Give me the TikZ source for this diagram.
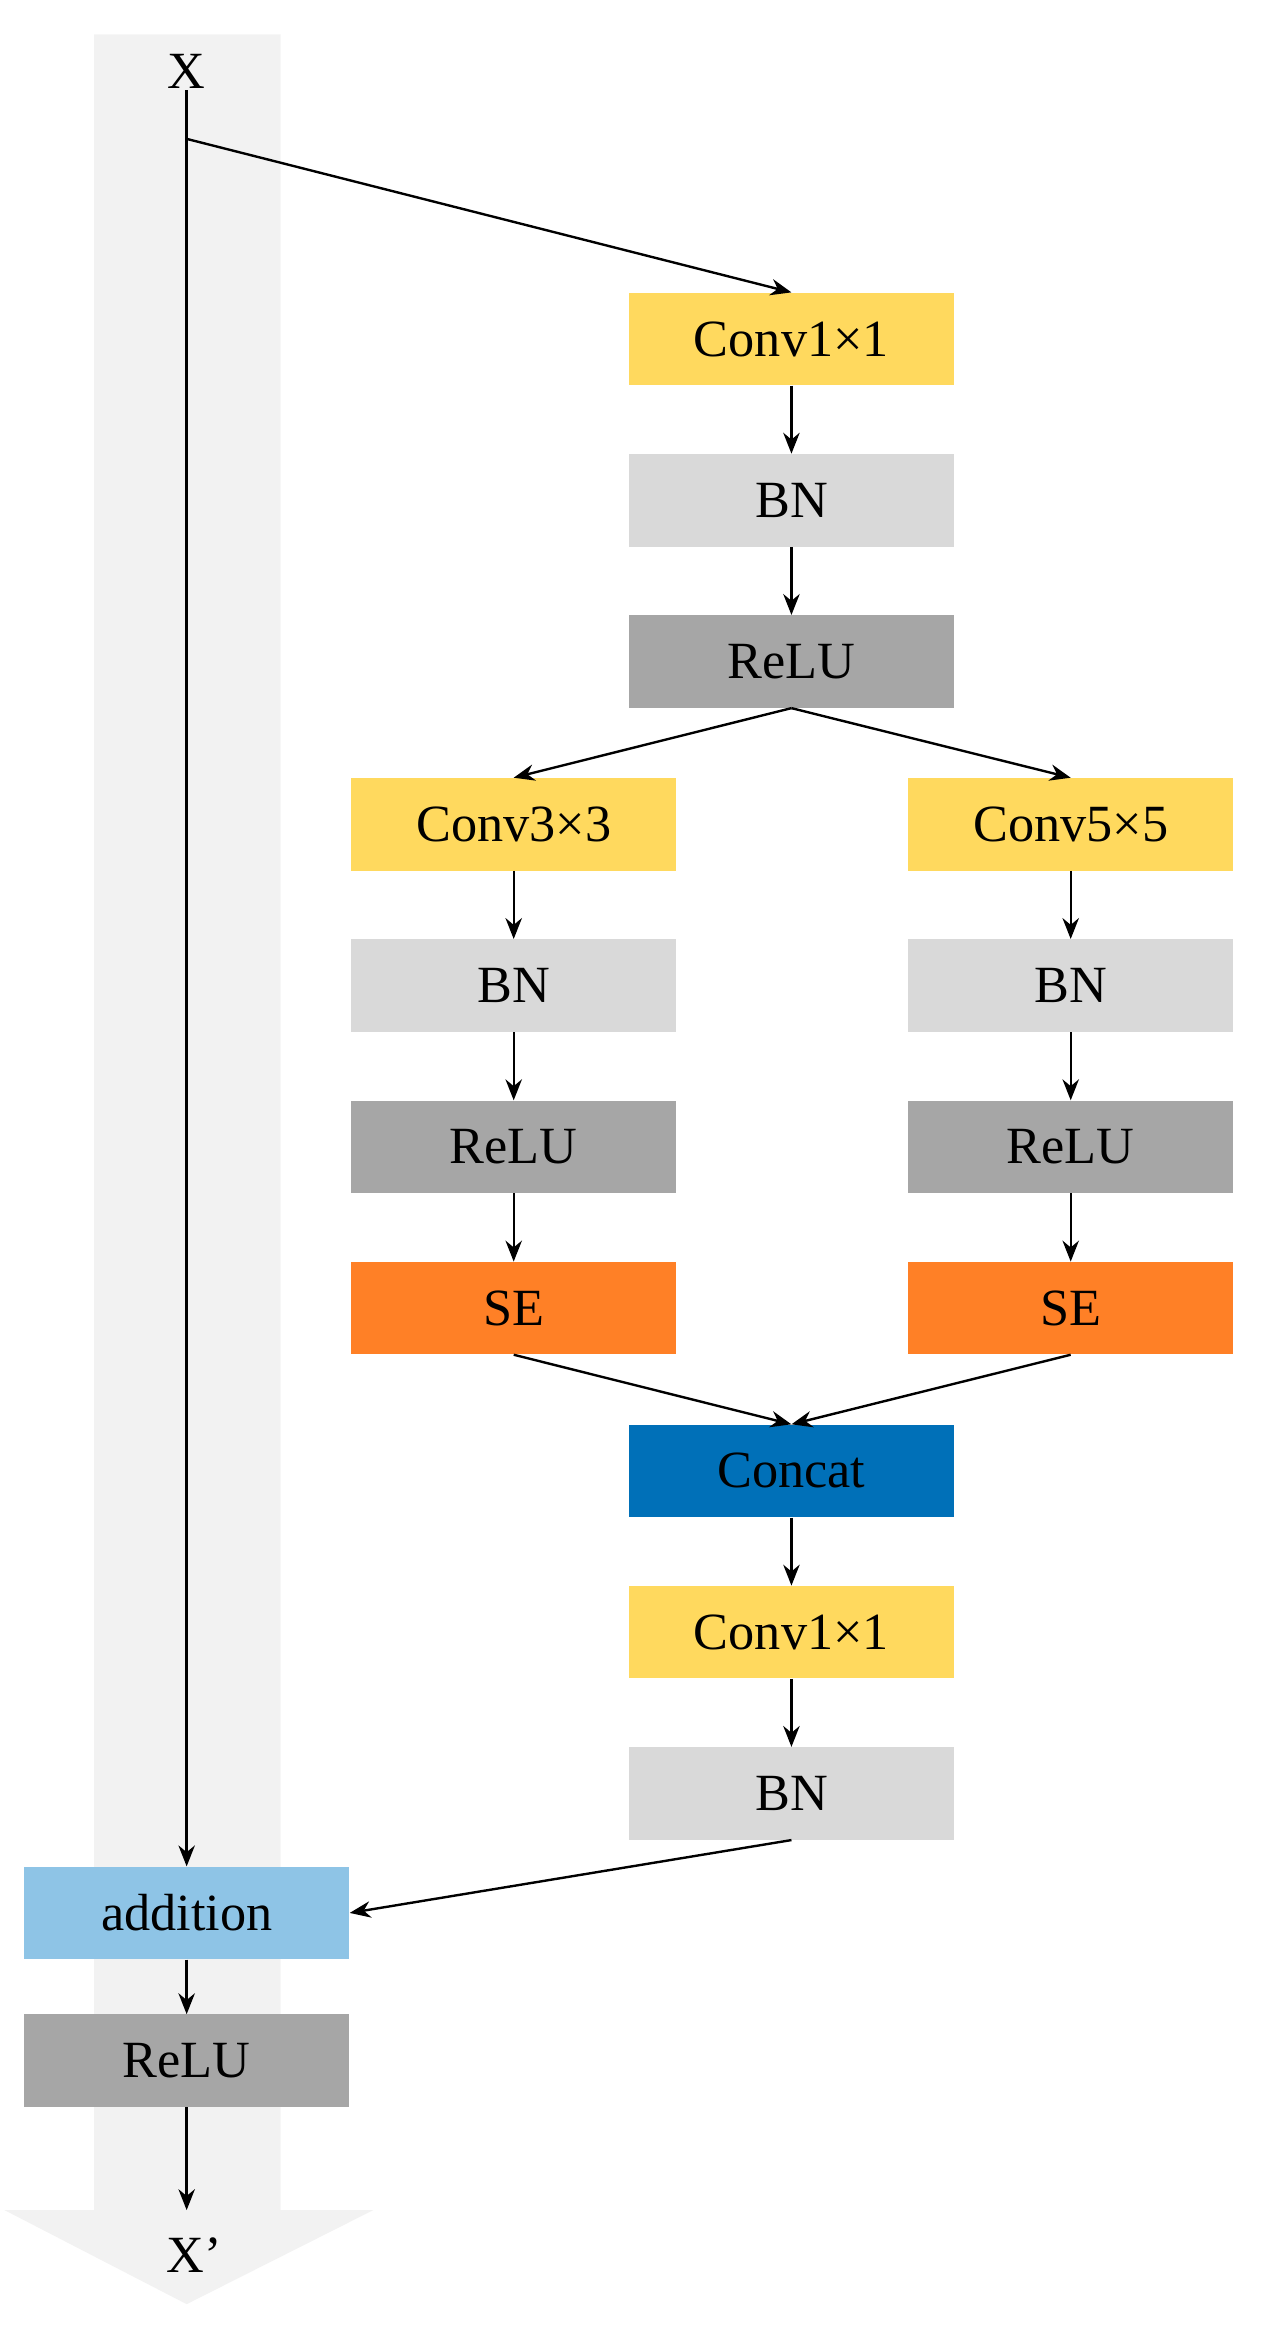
\documentclass[tikz,border=0pt]{standalone}
\usepackage{fontspec}
\setmainfont{Liberation Serif}
\usetikzlibrary{arrows.meta}
\definecolor{cyellow}{RGB}{255,217,94}
\definecolor{clgray}{RGB}{217,217,217}
\definecolor{cdgray}{RGB}{166,166,166}
\definecolor{corange}{RGB}{255,128,38}
\definecolor{cblue}{RGB}{0,112,184}
\definecolor{clblue}{RGB}{142,196,230}
\definecolor{cband}{RGB}{242,242,242}
\tikzset{
  blk/.style={minimum width=218pt, minimum height=62pt, inner sep=0pt, font=\fontsize{35}{40}\selectfont},
  conv/.style={blk, fill=cyellow},
  bn/.style={blk, fill=clgray},
  relu/.style={blk, fill=cdgray},
  se/.style={blk, fill=corange},
  cat/.style={blk, fill=cblue},
  add/.style={blk, fill=clblue},
  arr/.style={line width=1.6pt, -{Stealth[length=14pt,width=11pt]}}
}
\begin{document}
\begin{tikzpicture}[x=1pt,y=1pt,yscale=-1]
\useasboundingbox (0,0) rectangle (850,1567);

%band
\fill[cband] (63,23) -- (188,23) -- (188,1480) -- (250,1480) -- (125,1543) -- (3,1480) -- (63,1480) -- cycle;

% Text Node
\node[font=\fontsize{35}{40}\selectfont] (x) at (125,48) {X};
\node[font=\fontsize{35}{40}\selectfont] (xo) at (130,1510) {X’};
\coordinate (split) at (125,93);
\coordinate (end) at (125,1480);

%main branch
\node[conv] (c1) at (530,227) {Conv1×1};
\node[bn] (b1) at (530,335) {BN};
\node[relu] (r1) at (530,443) {ReLU};

\node[conv] (c3) at (344,552) {Conv3×3};
\node[bn] (b3) at (344,660) {BN};
\node[relu] (r3) at (344,768) {ReLU};
\node[se] (s3) at (344,876) {SE};

\node[conv] (c5) at (717,552) {Conv5×5};
\node[bn] (b5) at (717,660) {BN};
\node[relu] (r5) at (717,768) {ReLU};
\node[se] (s5) at (717,876) {SE};

\node[cat] (cc) at (530,985) {Concat};
\node[conv] (c2) at (530,1093) {Conv1×1};
\node[bn] (b2) at (530,1201) {BN};

\node[add] (ad) at (125,1281) {addition};
\node[relu] (r0) at (125,1380) {ReLU};

%arrows
\draw[line width=1.6pt] (split) -- (x.south |- 0,60) ;
\draw[arr] (split) -- (ad.north);
\draw[arr] (split) -- (c1.north);
\draw[arr] (c1) -- (b1);
\draw[arr] (b1) -- (r1);
\draw[arr] (r1.south) -- (c3.north);
\draw[arr] (r1.south) -- (c5.north);
\draw[arr] (c3) -- (b3);
\draw[arr] (b3) -- (r3);
\draw[arr] (r3) -- (s3);
\draw[arr] (c5) -- (b5);
\draw[arr] (b5) -- (r5);
\draw[arr] (r5) -- (s5);
\draw[arr] (s3.south) -- (cc.north);
\draw[arr] (s5.south) -- (cc.north);
\draw[arr] (cc) -- (c2);
\draw[arr] (c2) -- (b2);
\draw[arr] (b2.south) -- (ad.east);
\draw[arr] (ad) -- (r0);
\draw[arr] (r0.south) -- (end);

\end{tikzpicture}
\end{document}
